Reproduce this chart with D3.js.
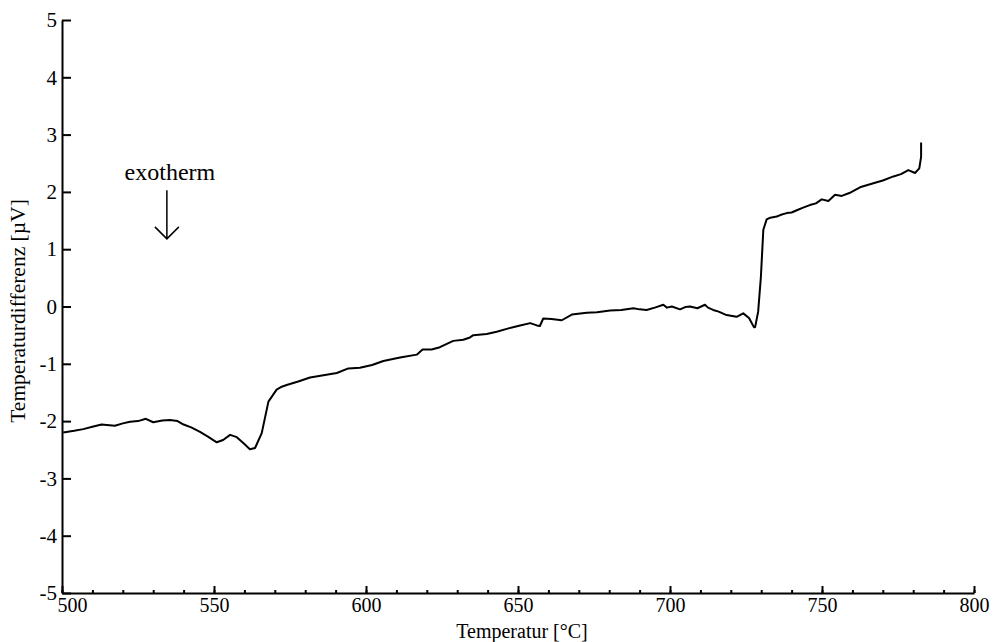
<!DOCTYPE html>
<html>
<head>
<meta charset="utf-8">
<script src="https://cdn.jsdelivr.net/npm/d3@7"></script>
<style>
  body { margin: 0; background: #fff; }
  text { font-family: "Liberation Serif", "Times New Roman", serif; fill: #000; }
</style>
</head>
<body>
<div id="chart"></div>
<script>
var width = 994, height = 642;
var margin = {top: 20, right: 20, bottom: 49, left: 62};

// DTA curve: temperature [°C] and difference [µV]
var temps = [500.4, 504, 507, 510, 513, 517.4, 520, 522.4, 525, 527.6, 530, 533, 535.5, 538, 540, 542.5, 545.4,
  548, 550.9, 553, 555.3, 557.5, 560, 561.8, 563.5, 565.7, 567.9, 570.6, 572.3, 573.9, 577.7, 581.6, 586,
  590.4, 594.2, 598, 602, 605.7, 611.2, 616.7, 618.6, 621.6, 624.3, 628.7, 632, 634.2, 635.3, 639.7, 643,
  646.3, 650, 654, 656.2, 657.2, 658.3, 661, 664.4, 667.7, 672.6, 676, 680.3, 684, 688, 690, 692.3, 695,
  697.8, 699, 700.6, 703.3, 705, 706.6, 709, 711.5, 712.5, 714.2, 716, 718.6, 721.9, 724.1, 726, 727.6,
  728, 729, 729.9, 730.7, 731.8, 733, 735.1, 736.5, 738.4, 740, 741.7, 744, 746, 748, 749.9, 752.1,
  754.3, 756.5, 759, 762.5, 766.9, 770, 773.5, 776, 778.4, 780.6, 782, 782.6, 782.6];
var values = [-2.20, -2.17, -2.14, -2.10, -2.06, -2.08, -2.04, -2.01, -2.00, -1.96, -2.02, -1.99, -1.98, -2.00,
  -2.06, -2.11, -2.19, -2.27, -2.37, -2.33, -2.24, -2.28, -2.40, -2.49, -2.47, -2.21, -1.66, -1.45, -1.40,
  -1.37, -1.31, -1.24, -1.20, -1.16, -1.08, -1.07, -1.02, -0.95, -0.89, -0.84, -0.75, -0.75, -0.71, -0.60,
  -0.58, -0.54, -0.50, -0.48, -0.44, -0.39, -0.34, -0.29, -0.33, -0.34, -0.21, -0.22, -0.24, -0.14, -0.11,
  -0.10, -0.07, -0.06, -0.03, -0.05, -0.06, -0.02, 0.03, -0.02, 0.00, -0.05, -0.01, 0.00, -0.03, 0.03,
  -0.02, -0.06, -0.09, -0.15, -0.18, -0.12, -0.20, -0.36, -0.36, -0.09, 0.52, 1.34, 1.52, 1.55, 1.57,
  1.60, 1.63, 1.64, 1.68, 1.73, 1.77, 1.80, 1.87, 1.84, 1.95, 1.93, 1.98, 2.08, 2.15, 2.20, 2.27, 2.31,
  2.38, 2.33, 2.41, 2.61, 2.86];

var xTicks = [500, 550, 600, 650, 700, 750, 800];
var yTicks = [-5, -4, -3, -2, -1, 0, 1, 2, 3, 4, 5];
var minorXTicks = d3.range(500, 801, 10);

var svg = d3.select("#chart").append("svg")
    .attr("width", width)
    .attr("height", height);

var x = d3.scaleLinear().domain([500, 800]).range([margin.left, width - margin.right]);
var y = d3.scaleLinear().domain([-5, 5]).range([height - margin.bottom, margin.top]);

// minor ticks on x
svg.append("g")
    .attr("transform", "translate(0," + y(-5) + ")")
    .call(d3.axisBottom(x).tickValues(minorXTicks).tickSize(-3).tickSizeOuter(0).tickFormat(""))
    .call(function(g) { g.select(".domain").remove(); })
    .selectAll("line").attr("stroke-width", 2);

var xAxis = svg.append("g")
    .attr("transform", "translate(0," + y(-5) + ")")
    .call(d3.axisBottom(x).tickValues(xTicks).tickSize(-7).tickSizeOuter(0).tickPadding(5).tickFormat(String));
xAxis.selectAll("text").attr("font-size", 20);
xAxis.selectAll("text").filter(function(d) { return d === 500; }).attr("dx", 10);

var yAxis = svg.append("g")
    .attr("transform", "translate(" + x(500) + ",0)")
    .call(d3.axisLeft(y).tickValues(yTicks).tickSize(-9).tickSizeOuter(0).tickPadding(5).tickFormat(String));
yAxis.selectAll("text").attr("font-size", 21);

svg.selectAll(".domain, .tick line").attr("stroke", "#000").attr("stroke-width", 2);

// curve
var line = d3.line()
    .x(function(d) { return x(d[0]); })
    .y(function(d) { return y(d[1]); });

svg.append("path")
    .datum(d3.zip(temps, values))
    .attr("fill", "none")
    .attr("stroke", "#000")
    .attr("stroke-width", 2)
    .attr("stroke-linejoin", "round")
    .attr("d", line);

// annotation
svg.append("text")
    .attr("x", x(535.5)).attr("y", y(2.2))
    .attr("text-anchor", "middle")
    .attr("font-size", 24)
    .text("exotherm");

var ax = x(534.5), arrowTop = y(2.03), arrowTip = y(1.18);
svg.append("path")
    .attr("d", "M" + ax + "," + arrowTop + "V" + arrowTip +
        "M" + (ax - 12) + "," + (arrowTip - 12) + "L" + ax + "," + arrowTip + "L" + (ax + 12) + "," + (arrowTip - 12))
    .attr("fill", "none")
    .attr("stroke", "#000")
    .attr("stroke-width", 1.5);

// axis titles
svg.append("text")
    .attr("x", 522)
    .attr("y", 638)
    .attr("text-anchor", "middle")
    .attr("font-size", 20)
    .text("Temperatur [°C]");

svg.append("text")
    .attr("transform", "translate(25,311) rotate(-90)")
    .attr("text-anchor", "middle")
    .attr("font-size", 21.5)
    .text("Temperaturdifferenz [µV]");
</script>
</body>
</html>
